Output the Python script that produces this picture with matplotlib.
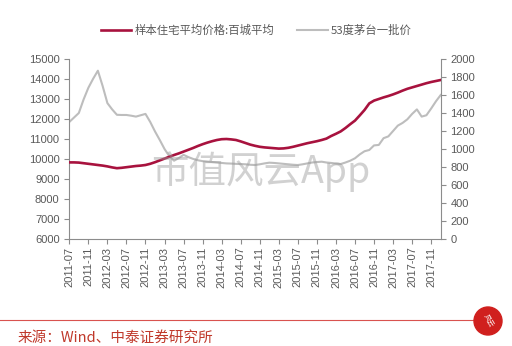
import matplotlib
matplotlib.use("Agg")
import matplotlib.pyplot as plt
from matplotlib.patches import Circle
import numpy as np

plt.rcParams['font.family'] = ['Liberation Sans', 'Noto Sans CJK SC', 'DejaVu Sans']

months = np.arange(79)  # 2011-07 .. 2018-01
tick_labels = ['2011-07', '2011-11', '2012-03', '2012-07', '2012-11', '2013-03', '2013-07',
               '2013-11', '2014-03', '2014-07', '2014-11', '2015-03', '2015-07', '2015-11',
               '2016-03', '2016-07', '2016-11', '2017-03', '2017-07', '2017-11']

house_price = [9830, 9830, 9820, 9790, 9760, 9730, 9700, 9670, 9630, 9580,
               9540, 9560, 9590, 9620, 9650, 9670, 9700, 9760, 9840, 9930,
               10020, 10110, 10200, 10280, 10370, 10460, 10550, 10650, 10740, 10820,
               10890, 10950, 10990, 11000, 10980, 10950, 10880, 10800, 10720, 10660,
               10610, 10580, 10560, 10540, 10520, 10530, 10560, 10610, 10670, 10730,
               10790, 10840, 10890, 10950, 11020, 11150, 11260, 11380, 11550, 11740,
               11920, 12180, 12450, 12780, 12920, 13000, 13080, 13150, 13230, 13320,
               13420, 13510, 13580, 13650, 13720, 13790, 13850, 13900, 13950]

moutai = [1300, 1350, 1400, 1550, 1680, 1780, 1870, 1700, 1510, 1440,
          1380, 1378, 1378, 1370, 1360, 1375, 1390, 1300, 1195, 1100,
          1000, 920, 870, 900, 935, 910, 890, 875, 865, 860,
          855, 850, 845, 840, 838, 835, 833, 830, 825, 822,
          830, 840, 848, 845, 840, 835, 830, 825, 822, 830,
          840, 850, 855, 859, 850, 845, 838, 833, 850, 870,
          897, 940, 975, 989, 1040, 1045, 1120, 1140, 1200, 1260,
          1290, 1330, 1390, 1440, 1360, 1375, 1450, 1530, 1600]

name_house = '样本住宅平均价格:百城平均'
name_moutai = '53度茅台一批价'
source_text = '来源：Wind、中泰证券研究所'
watermark = '市值风云App'

red = '#A8123E'
gray_line = '#BDBDBD'
axis_gray = '#8C8C8C'
text_gray = '#595959'

fig = plt.figure(figsize=(5.12, 3.46), dpi=100)
ax = fig.add_axes([69.3/512, 1-239/346, (440.7-69.3)/512, (239-59)/346])
ax2 = ax.twinx()

l2, = ax2.plot(months, moutai, color=gray_line, lw=1.5, zorder=2)
l1, = ax.plot(months, house_price, color=red, lw=1.9, zorder=3)
ax.set_zorder(ax2.get_zorder() + 1)
ax.patch.set_visible(False)

ax.set_xlim(0, 78)
ax.set_ylim(6000, 15000)
ax.set_yticks(np.arange(6000, 15001, 1000))
ax2.set_ylim(0, 2000)
ax2.set_yticks(np.arange(0, 2001, 200))
ax.set_xticks(np.arange(0, 77, 4))
ax.set_xticklabels(tick_labels, rotation=90)

for a in (ax, ax2):
    for s in a.spines.values():
        s.set_color(axis_gray)
        s.set_linewidth(0.8)
    a.spines['top'].set_visible(False)
    a.tick_params(colors=axis_gray, labelcolor=text_gray, labelsize=8, length=3.5, width=0.8)
ax.spines['right'].set_visible(False)
ax2.spines['left'].set_visible(False)
ax2.spines['bottom'].set_visible(False)
ax.tick_params(axis='x', labelsize=8, pad=2)

fig.legend([l1, l2], [name_house, name_moutai], loc='center', bbox_to_anchor=(0.5, 1-30/346),
           ncol=2, frameon=False, prop={'family': 'Noto Sans CJK SC', 'size': 8.2},
           handlelength=2.7, columnspacing=2.0, handletextpad=0.25, labelcolor=text_gray)

fig.text(0.51, 1-172/346, watermark, ha='center', va='center', fontsize=27,
         color='#9A9A9A', alpha=0.45, family=['Noto Sans CJK SC'], zorder=10)

fig.add_artist(plt.Line2D([0, 480/512], [1-320/346, 1-320/346], color='#D9534F', lw=0.8))
fig.text(18/512, 1-338/346, source_text, ha='left', va='center', fontsize=10.5,
         color='#C0392B', family=['Noto Sans CJK SC'])

circ = Circle((488/100, (346-321)/100), 0.14, transform=fig.dpi_scale_trans,
              color='#D0201E', zorder=5)
fig.add_artist(circ)
fig.text(488/512, 1-321/346, '风云', ha='center', va='center', fontsize=5, color='white',
         family=['Noto Sans CJK SC'], zorder=6, rotation=-60)

fig.savefig('out.png', dpi=100)
